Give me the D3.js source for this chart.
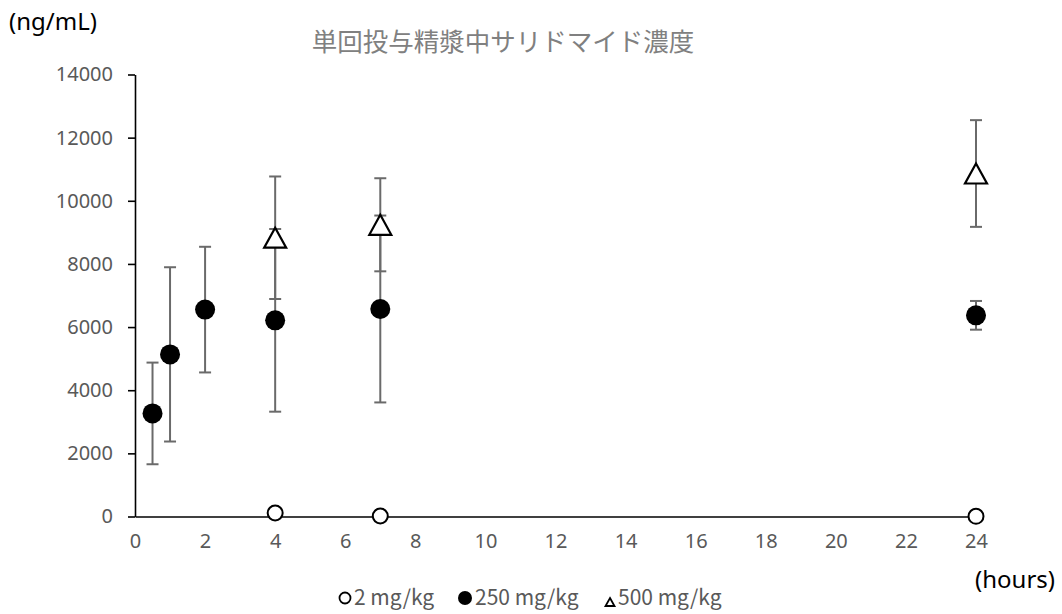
<!DOCTYPE html>
<html lang="ja">
<head>
<meta charset="utf-8">
<script src="https://cdn.jsdelivr.net/npm/d3@7/dist/d3.min.js"></script>
<style>
  html, body { margin: 0; padding: 0; background: #fff; }
  svg { display: block; }
</style>
</head>
<body>
<svg id="chart" width="1062" height="614"></svg>
<script>
// Sampling times (hours) and mean ± SD concentrations (ng/mL) per dose group
const xTicks = [0, 2, 4, 6, 8, 10, 12, 14, 16, 18, 20, 22, 24];
const yTicks = [0, 2000, 4000, 6000, 8000, 10000, 12000, 14000];

const dose2Times = [4, 7, 24];
const dose2Mean  = [110, 15, 5];

const dose250Times = [0.5, 1, 2, 4, 7, 24];
const dose250Mean  = [3265, 5135, 6553, 6213, 6573, 6372];
const dose250SD    = [1610, 2760, 1990, 2893, 2960, 455];

const dose500Times = [4, 7, 24];
const dose500Mean  = [8830, 9240, 10864];
const dose500SD    = [1940, 1474, 1690];

const legendLabels = ["2 mg/kg", "250 mg/kg", "500 mg/kg"];
const titleText = "単回投与精漿中サリドマイド濃度";

const svg = d3.select("#chart");

const x = d3.scaleLinear().domain([0, 24]).range([135, 976]);
const y = d3.scaleLinear().domain([0, 14000]).range([516.5, 74.5]);

const GREY_TEXT = "#595959";
const BAR = "#6a6a6a";
const tickFont = "'Noto Sans', 'Open Sans', sans-serif";
const jpFont = "'Noto Sans CJK JP', 'Noto Sans', sans-serif";

// Title
svg.append("text")
  .attr("x", 503).attr("y", 51)
  .attr("text-anchor", "middle")
  .attr("font-family", jpFont)
  .attr("font-size", 25.5)
  .attr("fill", "#808080")
  .text(titleText);

// Unit labels
svg.append("text")
  .attr("x", 9).attr("y", 30)
  .attr("font-family", tickFont)
  .attr("font-size", 24)
  .attr("fill", "#000")
  .text("(ng/mL)");

svg.append("text")
  .attr("x", 975).attr("y", 588)
  .attr("font-family", tickFont)
  .attr("font-size", 24)
  .attr("fill", "#000")
  .text("(hours)");

// Y axis
const yAxis = svg.append("g")
  .attr("transform", `translate(${x(0)},0)`)
  .call(d3.axisLeft(y).tickValues(yTicks).tickSize(7).tickSizeOuter(0).tickPadding(15).tickFormat(d3.format("d")));
yAxis.select(".domain").attr("stroke", "#000").attr("stroke-width", 1.6);
yAxis.selectAll(".tick line").attr("stroke", "#000").attr("stroke-width", 1.6);
yAxis.selectAll(".tick text")
  .attr("font-family", tickFont).attr("font-size", 20)
  .attr("fill", GREY_TEXT);

// X axis (line with labels, no tick marks)
const xAxis = svg.append("g")
  .attr("transform", `translate(0,${y(0)})`)
  .call(d3.axisBottom(x).tickValues(xTicks).tickSize(0).tickPadding(17).tickFormat(d3.format("d")));
xAxis.select(".domain").attr("stroke", "#000").attr("stroke-width", 1.6);
xAxis.selectAll(".tick text")
  .attr("font-family", tickFont).attr("font-size", 20)
  .attr("fill", GREY_TEXT);

// Error bars
function errorBars(times, means, sds) {
  const g = svg.append("g").attr("stroke", BAR).attr("stroke-width", 2).attr("fill", "none");
  times.forEach((t, i) => {
    const cx = x(t);
    const y1 = y(means[i] + sds[i]);
    const y0 = y(means[i] - sds[i]);
    g.append("line").attr("x1", cx).attr("x2", cx).attr("y1", y1).attr("y2", y0);
    g.append("line").attr("x1", cx - 6).attr("x2", cx + 6).attr("y1", y1).attr("y2", y1);
    g.append("line").attr("x1", cx - 6).attr("x2", cx + 6).attr("y1", y0).attr("y2", y0);
  });
}
errorBars(dose250Times, dose250Mean, dose250SD);
errorBars(dose500Times, dose500Mean, dose500SD);

// Triangle centred on its bounding box
function triPath(w, h) {
  return `M0,${-h / 2}L${w / 2},${h / 2}L${-w / 2},${h / 2}Z`;
}

// Markers
svg.append("g").selectAll("circle")
  .data(dose250Times.map((t, i) => [t, dose250Mean[i]]))
  .join("circle")
  .attr("cx", d => x(d[0])).attr("cy", d => y(d[1]))
  .attr("r", 10).attr("fill", "#000");

svg.append("g").selectAll("path")
  .data(dose500Times.map((t, i) => [t, dose500Mean[i]]))
  .join("path")
  .attr("d", triPath(22, 20))
  .attr("transform", d => `translate(${x(d[0])},${y(d[1])})`)
  .attr("fill", "#fff").attr("stroke", "#000").attr("stroke-width", 2.2)
  .attr("stroke-linejoin", "miter");

svg.append("g").selectAll("circle")
  .data(dose2Times.map((t, i) => [t, dose2Mean[i]]))
  .join("circle")
  .attr("cx", d => x(d[0])).attr("cy", d => y(d[1]))
  .attr("r", 7.5).attr("fill", "#fff").attr("stroke", "#000").attr("stroke-width", 2);

// Legend: marker, then label, laid out left to right
const legY = 598;
const legItems = [
  { mx: 345, tx: 354, kind: "open" },
  { mx: 465, tx: 475, kind: "filled" },
  { mx: 610, tx: 618, kind: "tri" }
];
const leg = svg.append("g");
legItems.forEach((it, i) => {
  if (it.kind === "open") {
    leg.append("circle").attr("cx", it.mx).attr("cy", legY).attr("r", 5.5)
      .attr("fill", "#fff").attr("stroke", "#000").attr("stroke-width", 1.8);
  } else if (it.kind === "filled") {
    leg.append("circle").attr("cx", it.mx).attr("cy", legY).attr("r", 7).attr("fill", "#000");
  } else {
    leg.append("path").attr("d", triPath(9, 8))
      .attr("transform", `translate(${it.mx},${legY + 4})`)
      .attr("fill", "#fff").attr("stroke", "#000").attr("stroke-width", 1.8);
  }
  leg.append("text")
    .attr("x", it.tx).attr("y", legY + 7)
    .attr("font-family", jpFont).attr("font-size", 21)
    .attr("fill", GREY_TEXT)
    .text(legendLabels[i]);
});
</script>
</body>
</html>
